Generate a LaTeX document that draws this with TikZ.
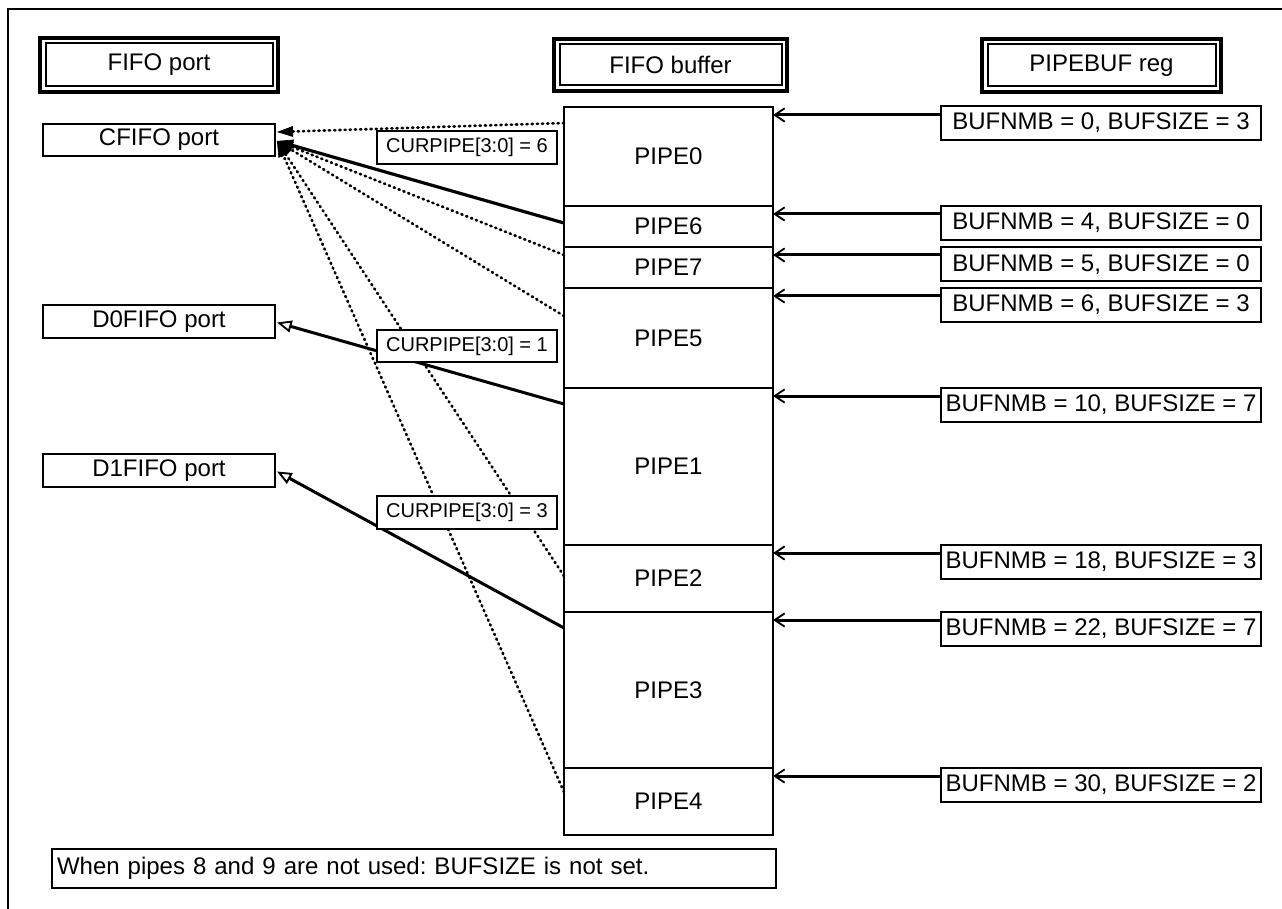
\documentclass[tikz,border=0pt]{standalone}
\usepackage{fontspec}
\setmainfont{Liberation Sans}
\usetikzlibrary{arrows.meta,calc}
\begin{document}
\frenchspacing
\begin{tikzpicture}[x=0.75pt,y=-0.75pt,
  every node/.style={font=\fontsize{18pt}{21pt}\selectfont, inner sep=0pt, outer sep=0pt},
  hdr/.style={draw, line width=3pt},
  hdrin/.style={line width=1.5pt},
  port/.style={draw, line width=1.5pt, minimum width=174pt},
  pipe/.style={draw, line width=1.5pt, minimum width=156.75pt},
  reg/.style={draw, line width=1.5pt, minimum width=240pt, minimum height=25.5pt},
  cur/.style={draw, fill=white, line width=1.5pt, minimum width=135pt, minimum height=24.5pt, font=\fontsize{15pt}{18pt}\selectfont},
  rarr/.style={line width=2.25pt, -{Straight Barb[length=7.5pt,width=10pt,line width=1.4pt]}},
  dots/.style={line width=2pt, line cap=round, dash pattern=on 0.9pt off 3pt, -{Triangle[length=12pt,width=8pt,line width=0.5pt]}},
  solidc/.style={line width=2.4pt, -{Triangle[length=12pt,width=9pt,line width=0.5pt]}},
  opena/.style={line width=2.25pt, -{Triangle[open,length=11pt,width=9pt,line width=1.4pt]}}]
\useasboundingbox (0,0) rectangle (1282,909);
\clip (0,0) rectangle (1282,909);
\draw[line width=1.5pt] (8,9) rectangle (1300,930);

% headers
\node[hdr, minimum width=178.5pt, minimum height=40.5pt] (hport) at (159,65) {FIFO port};
\node[hdr, minimum width=174.75pt, minimum height=39pt] (hbuf) at (670.5,65) {FIFO buffer};
\node[hdr, minimum width=179.25pt, minimum height=39.75pt] (hreg) at (1101.5,65.5) {PIPEBUF reg};
\foreach \n in {hport,hbuf,hreg}
  \draw[hdrin] ([shift={(5.5,5.5)}]\n.north west) rectangle ([shift={(-5.5,-5.5)}]\n.south east);

% ports
\node[port, minimum height=24pt] (cf) at (159,140) {CFIFO port};
\node[port, minimum height=24.75pt] (d0) at (159,321.5) {D0FIFO port};
\node[port, minimum height=24.75pt] (d1) at (159,470.5) {D1FIFO port};

% pipes
\node[pipe, minimum height=74.25pt] (p0) at (668.5,156.5) {PIPE0};
\node[pipe, minimum height=30.75pt] (p6) at (668.5,226.5) {PIPE6};
\node[pipe, minimum height=30.75pt] (p7) at (668.5,267.5) {PIPE7};
\node[pipe, minimum height=75pt] (p5) at (668.5,338) {PIPE5};
\node[pipe, minimum height=117.75pt] (p1) at (668.5,466.5) {PIPE1};
\node[pipe, minimum height=50.25pt] (p2) at (668.5,578.5) {PIPE2};
\node[pipe, minimum height=117pt] (p3) at (668.5,690) {PIPE3};
\node[pipe, minimum height=50.25pt] (p4) at (668.5,801.5) {PIPE4};

% register boxes
\node[reg] (b0) at (1101,123) {BUFNMB = 0, BUFSIZE = 3};
\node[reg] (b6) at (1101,223) {BUFNMB = 4, BUFSIZE = 0};
\node[reg] (b7) at (1101,264.5) {BUFNMB = 5, BUFSIZE = 0};
\node[reg] (b5) at (1101,305) {BUFNMB = 6, BUFSIZE = 3};
\node[reg] (b1) at (1101,404.5) {BUFNMB = 10, BUFSIZE = 7};
\node[reg] (b2) at (1101,561.5) {BUFNMB = 18, BUFSIZE = 3};
\node[reg] (b3) at (1101,628.5) {BUFNMB = 22, BUFSIZE = 7};
\node[reg] (b4) at (1101,785) {BUFNMB = 30, BUFSIZE = 2};

% register arrows
\foreach \b/\p in {b0/p0,b6/p6,b7/p7,b5/p5,b1/p1,b2/p2,b3/p3,b4/p4}{
  \coordinate (a\p) at ([shift={(0,8)}]\p.north east);
  \draw[rarr] (\b.west |- a\p) -- (a\p);
}

% port connectors
\coordinate (cfT) at ([shift={(2,1)}]cf.east);
\coordinate (cfU) at ([shift={(2,-8)}]cf.east);
\draw[dots] ([shift={(0,16)}]p0.north west) -- (cfU);
\draw[dots] ([shift={(0,8)}]p7.north west) -- (cfT);
\draw[dots] ([shift={(0,28)}]p5.north west) -- (cfT);
\draw[dots] ([shift={(0,31)}]p2.north west) -- (cfT);
\draw[dots] ([shift={(0,24)}]p4.north west) -- (cfT);
\draw[solidc] ([shift={(0,17)}]p6.north west) -- (cfT);
\draw[opena] ([shift={(0,16)}]p1.north west) -- ([shift={(2,1)}]d0.east);
\draw[opena] ([shift={(0,16)}]p3.north west) -- ([shift={(2,1)}]d1.east);

% CURPIPE labels
\node[cur] (c6) at (467,147.5) {CURPIPE[3:0] = 6};
\node[cur] (c1) at (467,346) {CURPIPE[3:0] = 1};
\node[cur] (c3) at (467,512.5) {CURPIPE[3:0] = 3};

% note
\node[draw, line width=1.5pt, text width=535.5pt, align=left, inner xsep=3.75pt, minimum height=29.25pt] (note) at (414,868.5) {When pipes 8 and 9 are not used: BUFSIZE is not set.};
\end{tikzpicture}
\end{document}
